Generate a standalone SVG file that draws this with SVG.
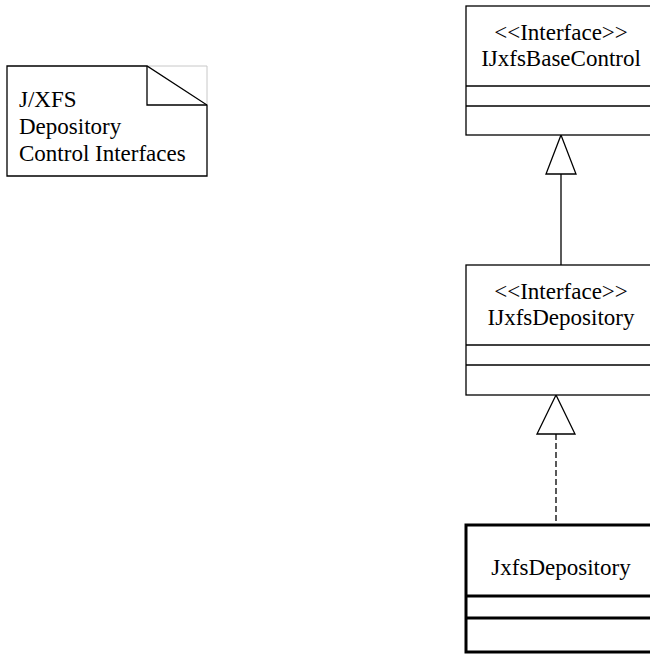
<svg xmlns="http://www.w3.org/2000/svg" width="650" height="655" viewBox="0 0 650 655">
<style>
text{font-family:"Liberation Serif","Times New Roman",serif;font-size:23px;fill:#000}
.c{text-anchor:middle}
.b{fill:#fff;stroke:#000;stroke-width:1.3}
.bt{fill:#fff;stroke:#000;stroke-width:3}
.l{stroke:#000;stroke-width:1.3;fill:none}
.lt{stroke:#000;stroke-width:3;fill:none}
.tri{fill:#fff;stroke:#000;stroke-width:1.3}
</style>
<rect width="650" height="655" fill="#fff"/>
<g id="note">
<polyline points="147,66 207,66 207,105" fill="none" stroke="#c8c8c8" stroke-width="1"/>
<path d="M7,66 H147 L207,105 V176 H7 Z" fill="#fff" stroke="#000" stroke-width="1.3"/>
<path d="M147,66 V105 H207" fill="none" stroke="#000" stroke-width="1.3"/>
<text x="19" y="107">J/XFS</text>
<text x="19" y="134">Depository</text>
<text x="19" y="161">Control Interfaces</text>
</g>
<g id="connectors">
<line x1="561" y1="174" x2="561" y2="265" class="l"/>
<polygon points="561,135 546,174 576,174" class="tri"/>
<line x1="556" y1="434" x2="556" y2="525" class="l" stroke-dasharray="6,3"/>
<polygon points="556,395 537,434 575,434" class="tri"/>
</g>
<g id="IJxfsBaseControl">
<rect x="466" y="6" width="200" height="129" class="b"/>
<line x1="466" y1="86" x2="660" y2="86" class="l"/>
<line x1="466" y1="106" x2="660" y2="106" class="l"/>
<text x="561" y="40" class="c">&lt;&lt;Interface&gt;&gt;</text>
<text x="561" y="66" class="c">IJxfsBaseControl</text>
</g>
<g id="IJxfsDepository">
<rect x="466" y="265" width="200" height="130" class="b"/>
<line x1="466" y1="345" x2="660" y2="345" class="l"/>
<line x1="466" y1="365" x2="660" y2="365" class="l"/>
<text x="561" y="299" class="c">&lt;&lt;Interface&gt;&gt;</text>
<text x="561" y="325" class="c">IJxfsDepository</text>
</g>
<g id="JxfsDepository">
<rect x="466" y="525" width="200" height="127" class="bt"/>
<line x1="466" y1="596" x2="660" y2="596" class="lt"/>
<line x1="466" y1="618" x2="660" y2="618" class="lt"/>
<text x="561" y="575" class="c">JxfsDepository</text>
</g>
</svg>
